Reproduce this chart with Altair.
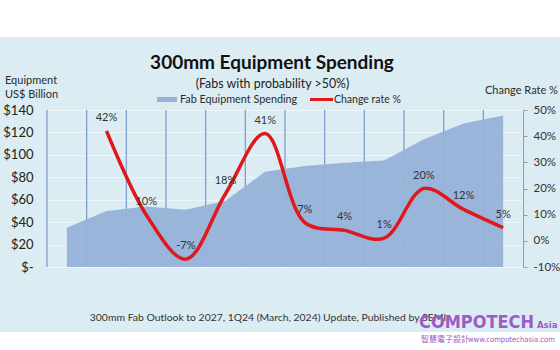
import altair as alt
import pandas as pd

# ---- data ----
years = ["2016", "2017", "2018", "2019", "2020", "2021", "2022", "2023", "2024", "2025", "2026", "2027"]
spending = [35, 50, 54, 51, 59, 85, 90, 93, 95, 114, 128, 135]
change_rate = [None, 42, 10, -7, 18, 41, 7, 4, 1, 20, 12, 5]
spend_ticks = [0, 20, 40, 60, 80, 100, 120, 140]
rate_ticks = [-10, 0, 10, 20, 30, 40, 50]

# ---- layout ----
L, T, W, H = 47, 110, 476, 157
BG = "#dcecf3"
AREA = "#96b2d8"
RED = "#e0181b"
FONT = "Lato"
TXT = "#2b2b2b"
PURPLE = "#9b5cc6"
NARROW = "Liberation Sans Narrow, DejaVu Sans Condensed, sans-serif"

df = pd.DataFrame({"year": years, "spending": spending, "change": change_rate})
line_df = df.dropna().copy()
line_df["label"] = [f"{int(v)}%" for v in line_df["change"]]

xs = alt.Scale(type="band", domain=years, paddingInner=0, paddingOuter=0)
ys_left = alt.Scale(domain=[0, 140], nice=False, zero=True)
ys_right = alt.Scale(domain=[-10, 50], nice=False, zero=False)

vgrid = alt.Chart(df).mark_rule(color="#7f9fcc", strokeWidth=1.3).encode(
    x=alt.X("year:N", scale=xs, bandPosition=0, axis=None),
)

area = alt.Chart(df).mark_area(color=AREA, opacity=0.95).encode(
    x=alt.X("year:N", scale=xs, axis=alt.Axis(
        title=None, ticks=False, domain=False, grid=False,
        labelFont=FONT, labelFontSize=13, labelFontWeight="bold",
        labelColor="#333333", labelPadding=9, labelAngle=0)),
    y=alt.Y("spending:Q", scale=ys_left, axis=alt.Axis(
        title=None, values=spend_ticks,
        labelExpr="datum.value == 0 ? '$-\u00a0\u00a0' : '$' + datum.value",
        grid=True, gridColor="#ffffff", gridOpacity=0.55, domain=False, ticks=False,
        labelPadding=14, labelFont=FONT, labelFontSize=13, labelColor="#222222")),
)

line = alt.Chart(line_df).mark_line(color=RED, strokeWidth=3.5, interpolate="catmull-rom").encode(
    x=alt.X("year:N", scale=xs, axis=None),
    y=alt.Y("change:Q", scale=ys_right, axis=alt.Axis(
        orient="right", title=None, values=rate_ticks,
        labelExpr="datum.value + '%'", grid=False, domain=True, domainColor="#9a9a9a",
        ticks=True, tickColor="#9a9a9a", tickSize=4, labelPadding=6,
        labelFont=FONT, labelFontSize=11.5, labelColor="#333333")),
)

labels = alt.Chart(line_df).mark_text(dy=-13, fontSize=11, font=FONT, color="#333333").encode(
    x=alt.X("year:N", scale=xs, axis=None),
    y=alt.Y("change:Q", scale=ys_right, axis=None),
    text="label:N",
)

one = alt.Data(values=[{"a": 1}])


def txt(s, x, y, size, align="left", weight="normal", color=TXT, font=FONT, baseline="middle"):
    return alt.Chart(one).mark_text(
        align=align, baseline=baseline, fontSize=size, fontWeight=weight, color=color, font=font
    ).encode(x=alt.value(x - L), y=alt.value(y - T), text=alt.value(s))


def box(x1, x2, y1, y2, color):
    return alt.Chart(one).mark_rect(color=color).encode(
        x=alt.value(x1 - L), x2=alt.value(x2 - L), y=alt.value(y1 - T), y2=alt.value(y2 - T))


white_top = box(0, 560, 0, 37, "#ffffff")
white_bottom = box(0, 560, 332, 350, "#ffffff")

legend_swatch = box(157, 177, 97, 102, AREA)
legend_line = alt.Chart(one).mark_rule(color=RED, strokeWidth=3).encode(
    x=alt.value(310 - L), x2=alt.value(333 - L), y=alt.value(99.5 - T))

decor = [
    txt("300mm Equipment Spending", 272, 63, 19, align="center", weight="bold", color="#111111"),
    txt("(Fabs with probability >50%)", 272.5, 83.5, 12.4, align="center", color="#222222"),
    txt("Equipment", 5, 81, 11),
    txt("US$ Billion", 5, 95, 11),
    txt("Change Rate %", 485, 91, 11),
    txt("Fab Equipment Spending", 180, 99.5, 10.8),
    txt("Change rate %", 334, 99.5, 10.5),
    txt("300mm Fab Outlook to 2027, 1Q24 (March, 2024) Update, Published by SEMI", 268, 318, 10.4,
        align="center", color="#333333"),
    txt("COMPOTECH", 419, 328, 18, weight="bold", color=PURPLE, font=NARROW, baseline="alphabetic"),
    txt("Asia", 537, 328, 9.5, weight="bold", color=PURPLE, font=NARROW, baseline="alphabetic"),
    txt("智慧電子設計", 421, 339.5, 8, color=PURPLE, font="Noto Sans CJK TC"),
    txt("www.compotechasia.com", 468, 339.5, 7.6, color=PURPLE, font=NARROW),
]

chart = alt.layer(
    white_top, white_bottom, vgrid, area, line, labels, legend_swatch, legend_line, *decor
).resolve_scale(y="independent").properties(
    width=W, height=H, background=BG,
    padding={"left": L, "top": T, "right": 560 - L - W, "bottom": 350 - T - H},
    autosize=alt.AutoSizeParams(type="none"),
).configure_view(stroke=None)

chart.save("out.html", embed_options={"renderer": "svg", "actions": False})
